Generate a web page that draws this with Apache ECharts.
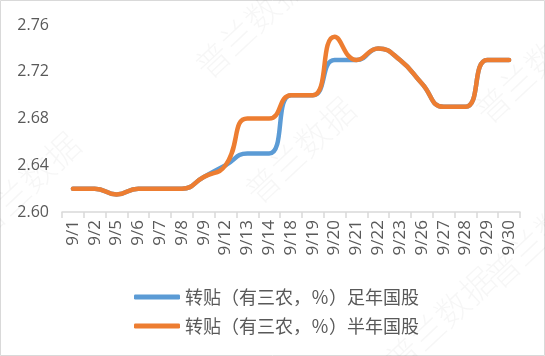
<!DOCTYPE html>
<html><head><meta charset="utf-8">
<script src="https://cdn.jsdelivr.net/npm/echarts@6/dist/echarts.min.js"></script>
<style>html,body{margin:0;padding:0;background:#fff}#c{width:545px;height:356px}</style>
</head><body><div id="c"></div>
<script>
const categories = ['9/1','9/2','9/5','9/6','9/7','9/8','9/9','9/12','9/13','9/14','9/18','9/19','9/20','9/21','9/22','9/23','9/26','9/27','9/28','9/29','9/30'];
const fullYear = [2.62,2.62,2.615,2.62,2.62,2.62,2.63,2.64,2.65,2.65,2.70,2.70,2.73,2.73,2.74,2.73,2.71,2.69,2.69,2.73,2.73];
const halfYear = [2.62,2.62,2.615,2.62,2.62,2.62,2.63,2.64,2.68,2.68,2.70,2.70,2.75,2.73,2.74,2.73,2.71,2.69,2.69,2.73,2.73];
const seriesNames = ['转贴（有三农，％）足年国股','转贴（有三农，％）半年国股'];
const yTicks = {min:2.60, max:2.76, interval:0.04};

const font = '"Noto Sans CJK SC",sans-serif';
const wm = [[250,25],[25,185],[300,150],[440,320],[530,70],[540,235]].map(p=>({
  type:'text', x:p[0], y:p[1], rotation:Math.PI*0.24, z:-1, silent:true,
  style:{text:'普兰数据', fill:'rgba(0,0,0,0.035)', font:'300 34px '+font, align:'center', verticalAlign:'middle'}
}));
const chart = echarts.init(document.getElementById('c'), null, {renderer:'canvas'});
chart.setOption({
  backgroundColor:'#fff',
  animation:false,
  graphic:[{type:'rect', shape:{x:0.5,y:0.5,width:544,height:355}, style:{fill:'none', stroke:'#d9d9d9', lineWidth:1}, z:-2}].concat(wm),
  grid:{left:62, right:25, top:25, bottom:144, containLabel:false},
  legend:{
    orient:'vertical', left:129, top:283, itemGap:11, itemWidth:46, itemHeight:5, icon:'roundRect',
    textStyle:{fontSize:18, color:'#595959', fontFamily:font},
    data:seriesNames
  },
  xAxis:{
    type:'category', data:categories, boundaryGap:true,
    axisLine:{lineStyle:{color:'#d9d9d9', width:1.5}},
    axisTick:{show:true, length:6, lineStyle:{color:'#d9d9d9', width:1.5}},
    axisLabel:{rotate:90, fontSize:17, color:'#595959', fontFamily:'"Open Sans",sans-serif', margin:8, interval:0}
  },
  yAxis:{
    type:'value', min:yTicks.min, max:yTicks.max, interval:yTicks.interval,
    splitLine:{show:false}, axisLine:{show:false}, axisTick:{show:false},
    axisLabel:{fontSize:16, color:'#595959', fontFamily:'"Open Sans",sans-serif', margin:13, formatter:v=>v.toFixed(2)}
  },
  series:[
    {name:seriesNames[0], type:'line', data:fullYear, smooth:0.5, symbol:'none',
     lineStyle:{width:4.5, color:'#5B9BD5', cap:'round', join:'round'}, itemStyle:{color:'#5B9BD5'}, z:2},
    {name:seriesNames[1], type:'line', data:halfYear, smooth:0.5, symbol:'none',
     lineStyle:{width:4.5, color:'#ED7D31', cap:'round', join:'round'}, itemStyle:{color:'#ED7D31'}, z:3}
  ]
});
</script></body></html>
